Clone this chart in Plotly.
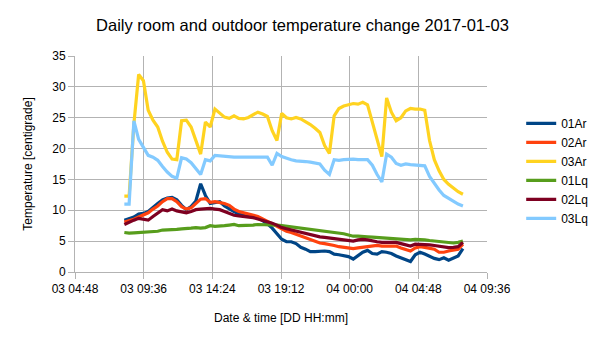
import pandas as pd
import plotly.graph_objects as go

# Sampling times (every 20 minutes)
times = pd.date_range("2017-01-03 08:15", periods=72, freq="20min")

s01Ar = [8.4, 8.6, 8.9, 9.4, 9.5, 9.8, 10.5, 11.1, 11.7, 12.0, 12.1, 11.7, 10.8, 10.1, 10.6, 11.5, 14.3, 12.4,
         11.1, 11.3, 11.4, 10.7, 10.2, 9.8, 9.4, 9.2, 9.1, 9.0, 8.8, 8.3, 7.8, 7.1, 6.1, 5.3, 4.9, 4.9,
         4.6, 4.0, 3.7, 3.3, 3.3, 3.4, 3.4, 3.3, 2.9, 2.8, 2.7, 2.5, 2.1, 2.6, 3.2, 3.5, 3.0, 2.9,
         3.3, 3.2, 3.0, 2.6, 2.3, 2.0, 1.7, 2.8, 3.2, 2.9, 2.5, 2.2, 2.0, 2.3, 1.9, 2.2, 2.6, 3.8]
s02Ar = [8.1, 8.3, 8.55, 8.9, 9.2, 9.6, 10.2, 10.7, 11.4, 11.9, 11.9, 11.4, 10.6, 10.2, 10.4, 11.1, 11.8, 11.9,
         11.3, 11.4, 11.3, 11.1, 10.8, 10.2, 9.8, 9.6, 9.4, 9.2, 9.0, 8.6, 8.2, 7.7, 7.3, 6.9, 6.6, 6.4,
         6.1, 5.8, 5.6, 5.3, 5.0, 4.7, 4.6, 4.5, 4.3, 4.1, 4.0, 3.8, 3.8, 3.9, 4.0, 4.1, 4.3, 4.3,
         4.2, 4.2, 4.3, 4.2, 3.9, 3.6, 3.4, 3.9, 4.1, 4.0, 3.9, 3.7, 3.2, 3.2, 3.4, 3.5, 3.7, 4.5]
s03Ar = [12.3, 12.3, 24.0, 32.0, 31.0, 26.2, 24.6, 23.5, 21.2, 19.4, 18.3, 18.2, 24.5, 24.6, 23.5, 21.4, 19.1, 24.3,
         23.5, 26.4, 25.8, 25.1, 24.9, 25.3, 24.9, 24.8, 25.05, 25.5, 25.9, 25.6, 25.2, 22.9, 21.3, 25.7, 25.0, 24.8,
         25.05, 24.8, 24.4, 23.9, 23.3, 22.6, 20.5, 19.2, 25.3, 26.5, 26.9, 27.1, 27.3, 27.2, 27.5, 27.1, 24.3, 21.5,
         18.7, 28.2, 25.9, 24.5, 25.0, 26.1, 26.5, 26.4, 26.4, 26.2, 21.3, 18.2, 16.4, 15.0, 14.2, 13.6, 13.0, 12.6]
s01Lq = [6.4, 6.3, 6.35, 6.4, 6.45, 6.5, 6.6, 6.6, 6.8, 6.8, 6.9, 6.9, 7.0, 7.0, 7.1, 7.2, 7.1, 7.2,
         7.5, 7.4, 7.4, 7.5, 7.6, 7.7, 7.5, 7.5, 7.6, 7.6, 7.7, 7.7, 7.6, 7.6, 7.6, 7.5, 7.4, 7.3,
         7.2, 7.1, 7.0, 6.9, 6.85, 6.8, 6.7, 6.6, 6.5, 6.4, 6.2, 6.0, 5.8, 5.8, 5.7, 5.7, 5.65, 5.6,
         5.55, 5.5, 5.4, 5.35, 5.3, 5.2, 5.2, 5.3, 5.3, 5.2, 5.1, 5.0, 4.9, 4.8, 4.7, 4.7, 4.8, 5.0]
s02Lq = [7.7, 8.1, 8.4, 8.7, 8.5, 8.4, 9.0, 9.6, 10.1, 9.9, 10.2, 9.9, 9.7, 9.6, 9.8, 10.1, 10.2, 10.3,
         10.3, 10.2, 10.1, 9.8, 9.5, 9.2, 9.1, 9.0, 9.0, 8.8, 8.6, 8.4, 8.1, 7.9, 7.6, 7.2, 7.0, 6.8,
         6.7, 6.5, 6.2, 6.0, 5.9, 5.7, 5.6, 5.5, 5.4, 5.3, 5.2, 5.0, 5.0, 5.2, 5.3, 5.2, 5.0, 4.9,
         4.8, 4.8, 4.8, 4.8, 4.6, 4.4, 4.2, 4.5, 4.5, 4.5, 4.4, 4.3, 4.2, 4.1, 3.95, 4.0, 4.1, 4.8]
s03Lq = [11.0, 11.0, 24.5, 21.5, 20.2, 18.9, 18.6, 18.1, 17.1, 16.2, 15.5, 15.2, 18.5, 18.3, 17.7, 16.8, 15.8, 18.2,
         18.0, 18.9, 18.8, 18.8, 18.7, 18.6, 18.6, 18.6, 18.7, 18.7, 18.7, 18.6, 18.6, 17.3, 19.2, 18.7, 18.4, 18.2,
         18.0, 18.0, 17.9, 17.8, 17.7, 17.5, 16.5, 15.8, 18.2, 18.1, 18.2, 18.3, 18.3, 18.2, 18.2, 18.2, 17.3, 15.8,
         14.6, 19.1, 18.6, 17.6, 17.3, 17.5, 17.4, 17.3, 17.3, 17.2, 15.5, 14.3, 13.3, 12.4, 11.9, 11.4, 11.0, 10.7]

series_names = ["01Ar", "02Ar", "03Ar", "01Lq", "02Lq", "03Lq"]
series_values = [s01Ar, s02Ar, s03Ar, s01Lq, s02Lq, s03Lq]
series_colors = ["#004586", "#ff420e", "#ffd320", "#579d1c", "#7e0021", "#83caff"]

tick_times = ["2017-01-03 04:48", "2017-01-03 09:36", "2017-01-03 14:24", "2017-01-03 19:12",
              "2017-01-04 00:00", "2017-01-04 04:48", "2017-01-04 09:36"]
tick_labels = ["03 04:48", "03 09:36", "03 14:24", "03 19:12", "04 00:00", "04 04:48", "04 09:36"]

fig = go.Figure()
for name, vals, col in zip(series_names, series_values, series_colors):
    fig.add_trace(go.Scatter(x=times, y=vals, name=name, mode="lines",
                             line=dict(color=col, width=3.2)))

font_family = "Liberation Sans, Arial, sans-serif"
fig.update_layout(
    width=605, height=340,
    margin=dict(l=75, r=114, t=56, b=68),
    paper_bgcolor="white", plot_bgcolor="white",
    font=dict(family=font_family, size=12, color="#000000"),
    title=dict(text="Daily room and outdoor temperature change 2017-01-03",
               x=0.5, xref="container", xanchor="center",
               y=1 - 25/340, yref="container", yanchor="middle",
               font=dict(size=16.5, family=font_family, color="#000000")),
    legend=dict(x=1.083, xanchor="left", y=0.755, yanchor="top",
                font=dict(size=12), bgcolor="rgba(0,0,0,0)",
                tracegroupgap=0, itemwidth=30),
    showlegend=True,
)
fig.update_xaxes(
    range=[tick_times[0], tick_times[-1]],
    tickvals=tick_times, ticktext=tick_labels,
    showgrid=True, gridcolor="#b3b3b3", gridwidth=1,
    showline=True, linecolor="#b3b3b3", linewidth=1, mirror=False,
    ticks="outside", ticklen=6, tickcolor="#b3b3b3",
    tickfont=dict(size=12, color="#000000"),
    title=dict(text="Date & time [DD HH:mm]", font=dict(size=12), standoff=18),
    zeroline=False,
)
fig.update_yaxes(
    range=[0, 35], tick0=0, dtick=5,
    showgrid=True, gridcolor="#b3b3b3", gridwidth=1,
    showline=True, linecolor="#b3b3b3", linewidth=1,
    ticks="outside", ticklen=6, tickcolor="#b3b3b3",
    tickfont=dict(size=12, color="#000000"),
    title=dict(text="Temperature [centigrade]", font=dict(size=12), standoff=17),
    zeroline=False,
)
fig.write_html("out.html")
